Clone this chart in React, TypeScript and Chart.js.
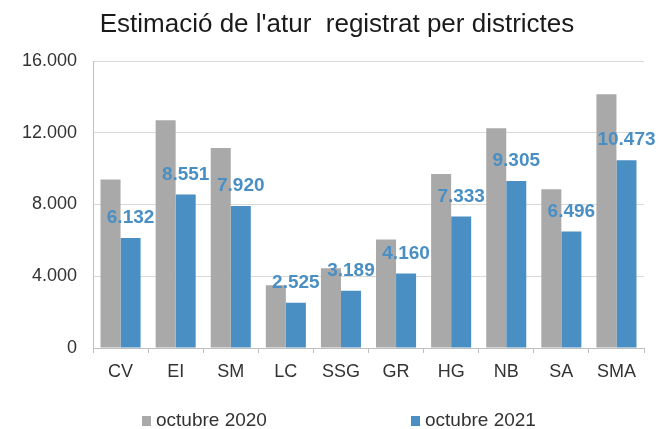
import React, { useEffect, useRef } from "react";
import { Chart, registerables } from "chart.js";

Chart.register(...registerables);

const title = "Estimació de l'atur  registrat per districtes";
const categories = ["CV", "EI", "SM", "LC", "SSG", "GR", "HG", "NB", "SA", "SMA"];
const series2020 = [9400, 12700, 11150, 3500, 4450, 6050, 9700, 12250, 8850, 14150];
const series2021 = [6132, 8551, 7920, 2525, 3189, 4160, 7333, 9305, 6496, 10473];
const seriesLabels = ["octubre 2020", "octubre 2021"];
const yTicks = [0, 4000, 8000, 12000, 16000];

const FONT = "'Liberation Sans', Arial, sans-serif";
const GRAY = "#A9A9A9";
const BLUE = "#4A8FC4";

const fmt = (v: number) => String(Math.round(v)).replace(/\B(?=(\d{3})+(?!\d))/g, ".");

const overlayPlugin = {
  id: "overlay",
  afterDatasetsDraw(chart: any) {
    const ctx = chart.ctx;
    ctx.save();
    // data labels on 2021 series
    const meta = chart.getDatasetMeta(1);
    ctx.font = `bold 19px ${FONT}`;
    ctx.fillStyle = BLUE;
    ctx.textAlign = "center";
    ctx.textBaseline = "middle";
    meta.data.forEach((bar: any, i: number) => {
      ctx.fillText(fmt(series2021[i]), bar.x, bar.y - 20);
    });
    ctx.restore();
  },
  afterDraw(chart: any) {
    const ctx = chart.ctx;
    ctx.save();
    // title
    ctx.font = `26px ${FONT}`;
    ctx.fillStyle = "#1a1a1a";
    ctx.textAlign = "center";
    ctx.textBaseline = "middle";
    ctx.fillText(title, 337, 25);
    // legend
    ctx.font = `19px ${FONT}`;
    ctx.textAlign = "left";
    const xs = [142, 411];
    const colors = [GRAY, BLUE];
    seriesLabels.forEach((lab, i) => {
      ctx.fillStyle = colors[i];
      ctx.fillRect(xs[i], 416, 9, 10);
      ctx.fillStyle = "#333333";
      ctx.fillText(lab, xs[i] + 14, 421);
    });
    ctx.restore();
  },
};

export default function App() {
  const ref = useRef<HTMLCanvasElement>(null);
  useEffect(() => {
    if (!ref.current) return;
    const chart = new Chart(ref.current, {
      type: "bar",
      data: {
        labels: categories,
        datasets: [
          { label: seriesLabels[0], data: series2020, backgroundColor: GRAY, categoryPercentage: 0.727, barPercentage: 1 },
          { label: seriesLabels[1], data: series2021, backgroundColor: BLUE, categoryPercentage: 0.727, barPercentage: 1 },
        ],
      },
      options: {
        responsive: false,
        animation: false,
        layout: { padding: { top: 61, right: 15, left: 0, bottom: 0 } },
        plugins: { legend: { display: false }, title: { display: false }, tooltip: { enabled: false } },
        scales: {
          x: {
            grid: { offset: true, drawOnChartArea: false, tickLength: 5, color: "#BFBFBF" },
            border: { color: "#BFBFBF" },
            ticks: { color: "#333333", font: { family: FONT, size: 18 }, padding: 8 },
            afterFit(scale: any) {
              scale.height = 81;
            },
          },
          y: {
            min: 0,
            max: 16000,
            afterBuildTicks(scale: any) {
              scale.ticks = yTicks.map((v) => ({ value: v }));
            },
            grid: { color: "#D9D9D9", drawTicks: false },
            border: { color: "#BFBFBF" },
            ticks: {
              color: "#333333",
              font: { family: FONT, size: 18 },
              padding: 16,
              callback: (v: any) => fmt(Number(v)),
            },
            afterFit(scale: any) {
              scale.width = 93;
            },
          },
        },
      },
      plugins: [overlayPlugin],
    });
    return () => chart.destroy();
  }, []);
  return (
    <div style={{ position: "fixed", left: 0, top: 0, width: 659, height: 429, background: "#fff" }}>
      <canvas ref={ref} width={659} height={429} />
    </div>
  );
}
